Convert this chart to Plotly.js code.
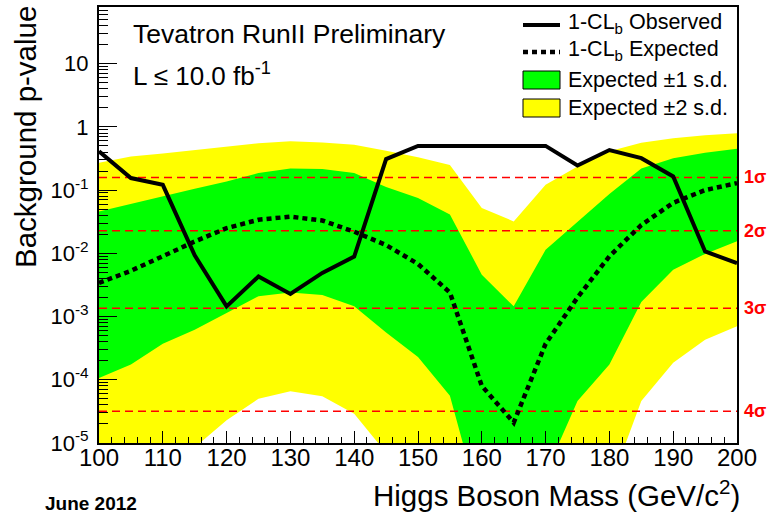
<!DOCTYPE html>
<html>
<head>
<meta charset="utf-8">
<script src="https://cdn.plot.ly/plotly-3.0.1.min.js"></script>
<style>html,body{margin:0;padding:0;background:#fff;}#chart{width:769px;height:519px;}</style>
</head>
<body>
<div id="chart"></div>
<script>
// Higgs boson mass points (GeV/c^2)
var masses = [100,105,110,115,120,125,130,135,140,145,150,155,160,165,170,175,180,185,190,195,200];
// 1-CL_b observed
var observed = [0.41,0.155,0.121,0.0093,0.00145,0.0043,0.00228,0.0049,0.0089,0.31,0.5,0.5,0.5,0.5,0.5,0.245,0.43,0.32,0.164,0.0107,0.0070];
// 1-CL_b expected (median)
var expected = [0.0034,0.0053,0.009,0.0154,0.025,0.034,0.038,0.033,0.022,0.0135,0.0068,0.0024,8e-5,2.1e-5,3.7e-4,0.002,0.009,0.028,0.063,0.1,0.129];
// expected +-1 s.d. band
var band1Upper = [0.046,0.061,0.079,0.105,0.137,0.186,0.22,0.215,0.186,0.112,0.075,0.041,0.0046,0.00145,0.0114,0.032,0.087,0.22,0.32,0.39,0.45];
var band1Lower = [1.07e-4,1.74e-4,3.7e-4,6.2e-4,1.14e-3,2.1e-3,2.4e-3,2.2e-3,1.45e-3,5.6e-4,2.3e-4,5.6e-5,8e-7,1e-7,3.3e-6,4.6e-5,1.74e-4,1.7e-3,5.5e-3,9.8e-3,0.0155];
// expected +-2 s.d. band
var band2Upper = [0.27,0.34,0.38,0.43,0.49,0.55,0.59,0.565,0.52,0.42,0.33,0.25,0.052,0.032,0.121,0.236,0.41,0.56,0.66,0.74,0.79];
var band2Lower = [2e-6,3e-6,4e-6,8.5e-6,2.3e-5,5e-5,6.6e-5,5.5e-5,2.9e-5,7e-6,1e-6,5e-8,5e-8,5e-8,5e-8,5e-8,2e-6,4.6e-5,1.86e-4,4.3e-4,7e-4];
// significance reference levels (one-sided p-values)
var sigmaP = [0.1587,0.02275,0.00135,3.17e-5];
var sigmaLabels = ['1\u03c3','2\u03c3','3\u03c3','4\u03c3'];
// axis ticks
var xTickVals = [100,110,120,130,140,150,160,170,180,190,200];
var yTickVals = [1e-5,1e-4,1e-3,1e-2,1e-1,1,10];
var yTickText = ['10<sup>-5</sup>','10<sup>-4</sup>','10<sup>-3</sup>','10<sup>-2</sup>','10<sup>-1</sup>','1','10'];
// legend entries
var legendLabels = ['1-CL<sub>b</sub> Observed','1-CL<sub>b</sub> Expected','Expected \u00b11 s.d.','Expected \u00b12 s.d.'];

var FONT = 'Liberation Sans, Arial, Helvetica, sans-serif';
var GREEN = '#00ff00', YELLOW = '#ffff00', RED = '#ff0000';

function bandPoly(up, lo){
  return {x: masses.concat(masses.slice().reverse()), y: up.concat(lo.slice().reverse())};
}
var b2 = bandPoly(band2Upper, band2Lower);
var b1 = bandPoly(band1Upper, band1Lower);

var traces = [];
traces.push({x:b2.x, y:b2.y, type:'scatter', mode:'lines', fill:'toself', fillcolor:YELLOW, line:{width:0, color:YELLOW}, hoverinfo:'skip', showlegend:false});
traces.push({x:b1.x, y:b1.y, type:'scatter', mode:'lines', fill:'toself', fillcolor:GREEN, line:{width:0, color:GREEN}, hoverinfo:'skip', showlegend:false});
sigmaP.forEach(function(p){
  traces.push({x:[masses[0], masses[masses.length-1]], y:[p,p], type:'scatter', mode:'lines', line:{color:RED, width:1.5, dash:'8px,5px'}, hoverinfo:'skip', showlegend:false});
});
traces.push({x:masses, y:expected, type:'scatter', mode:'lines', line:{color:'#000', width:4.5, dash:'5px,4px'}, showlegend:false});
traces.push({x:masses, y:observed, type:'scatter', mode:'lines', line:{color:'#000', width:4}, showlegend:false});

// plot area in pixels: x 99..737, y 7..443
function px(xp){ return (xp-99)/638; }
function py(yp){ return (443-yp)/436; }

var annotations = [];
sigmaP.forEach(function(p,i){
  annotations.push({xref:'paper', yref:'y', x:px(742), y:Math.log10(p), xanchor:'left', yanchor:'middle', text:'<b>'+sigmaLabels[i]+'</b>', showarrow:false, font:{family:FONT, size:18, color:RED}});
});
annotations.push({xref:'paper', yref:'paper', x:px(131), y:py(34), xanchor:'left', yanchor:'middle', text:'Tevatron RunII Preliminary', showarrow:false, font:{family:FONT, size:26.5, color:'#000'}});
annotations.push({xref:'paper', yref:'paper', x:px(131), y:py(74), xanchor:'left', yanchor:'middle', text:'L \u2264 10.0 fb<sup>-1</sup>', showarrow:false, font:{family:FONT, size:26, color:'#000'}});
annotations.push({xref:'paper', yref:'paper', x:px(43), y:py(503), xanchor:'left', yanchor:'middle', text:'<b>June 2012</b>', showarrow:false, font:{family:FONT, size:19, color:'#000'}});
annotations.push({xref:'paper', yref:'paper', x:px(742), y:py(493), xanchor:'right', yanchor:'middle', text:'Higgs Boson Mass (GeV/c<sup>2</sup>)', showarrow:false, font:{family:FONT, size:29.5, color:'#000'}});
annotations.push({xref:'paper', yref:'paper', x:px(25), y:py(4), xanchor:'center', yanchor:'top', textangle:-90, text:'Background p-value', showarrow:false, font:{family:FONT, size:29.5, color:'#000'}});

var legY = [23, 51, 80, 108];
legendLabels.forEach(function(t,i){
  annotations.push({xref:'paper', yref:'paper', x:px(566), y:py(legY[i]), xanchor:'left', yanchor:'middle', text:t, showarrow:false, font:{family:FONT, size:21.5, color:'#000'}});
});

var shapes = [
  {type:'line', xref:'paper', yref:'paper', x0:px(523), x1:px(560), y0:py(25), y1:py(25), line:{color:'#000', width:4}},
  {type:'line', xref:'paper', yref:'paper', x0:px(523), x1:px(560), y0:py(52), y1:py(52), line:{color:'#000', width:4.5, dash:'5px,4px'}},
  {type:'rect', xref:'paper', yref:'paper', x0:px(523), x1:px(560), y0:py(89), y1:py(71), fillcolor:GREEN, line:{color:'#000', width:1}},
  {type:'rect', xref:'paper', yref:'paper', x0:px(523), x1:px(560), y0:py(117), y1:py(99), fillcolor:YELLOW, line:{color:'#000', width:1}}
];

var layout = {
  width:769, height:519,
  margin:{l:99, r:32, t:7, b:76, pad:0},
  paper_bgcolor:'#fff', plot_bgcolor:'#fff',
  font:{family:FONT, color:'#000'},
  showlegend:false,
  xaxis:{range:[100,200], tickmode:'array', tickvals:xTickVals, ticks:'inside', ticklen:12, tickwidth:1, tickcolor:'#000',
         minor:{dtick:2, ticks:'inside', ticklen:6, tickwidth:1, tickcolor:'#000', showgrid:false},
         showline:true, mirror:true, linecolor:'#000', linewidth:2, showgrid:false, zeroline:false,
         ticklabelstandoff:-8, tickfont:{family:FONT, size:24}},
  yaxis:{type:'log', range:[-5, 1.896], tickmode:'array', tickvals:yTickVals, ticktext:yTickText, ticks:'inside', ticklen:18, tickwidth:1, tickcolor:'#000',
         minor:{dtick:'D1', ticks:'inside', ticklen:9, tickwidth:1, tickcolor:'#000', showgrid:false},
         showline:true, mirror:true, linecolor:'#000', linewidth:2, showgrid:false, zeroline:false,
         ticklabelstandoff:4, tickfont:{family:FONT, size:22}},
  annotations:annotations,
  shapes:shapes
};

Plotly.newPlot('chart', traces, layout, {staticPlot:true, displayModeBar:false});
</script>
</body>
</html>
